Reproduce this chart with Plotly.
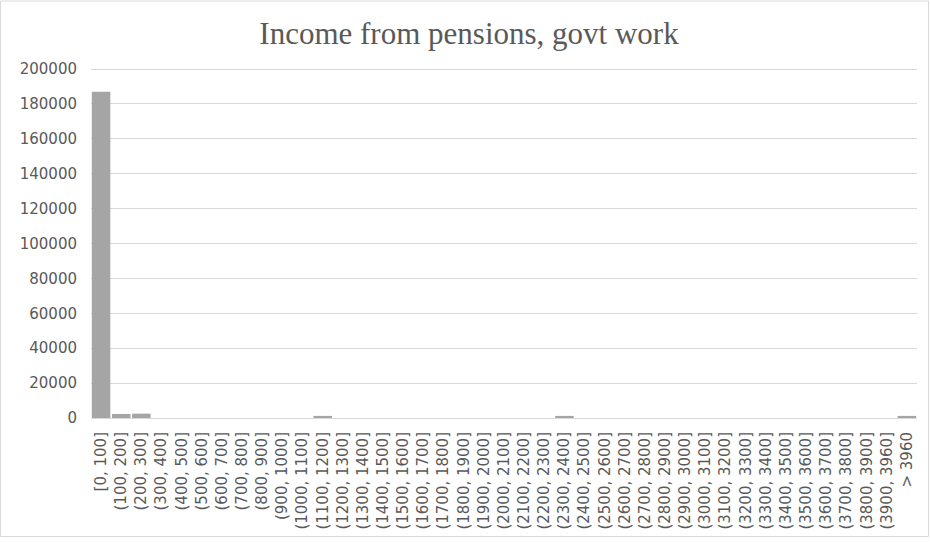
import plotly.graph_objects as go

# Income bins (upper bound of each bin, in dollars)
bin_labels = ["[0, 100]"] + [f"({a}, {a + 100}]" for a in range(100, 3900, 100)] + ["(3900, 3960]", "> 3960"]

# Counts per bin
counts = [187000, 2300, 2500] + [0] * 38
counts_map = {
    "(1100, 1200]": 1200,
    "(2300, 2400]": 1200,
    "> 3960": 1200,
}
counts = [counts_map.get(lbl, c) for lbl, c in zip(bin_labels, counts)]

tick_vals = list(range(0, 200001, 20000))
y_max = 201200  # a little headroom so the 200000 gridline is drawn

W, H = 930, 542
ML, MR, MT, MB = 91, 13, 67, 121
pw, ph = W - ML - MR, H - MT - MB

fig = go.Figure(
    go.Bar(
        x=bin_labels,
        y=counts,
        marker=dict(color="#a5a5a5", line=dict(width=0)),
    )
)

fig.update_layout(
    width=W,
    height=H,
    margin=dict(l=ML, r=MR, t=MT, b=MB),
    paper_bgcolor="white",
    plot_bgcolor="white",
    bargap=0.08,
    showlegend=False,
    title=dict(
        text="Income from pensions, govt work",
        x=(469 - ML) / pw,
        xref="paper",
        xanchor="center",
        y=1 - 33 / H,
        yanchor="middle",
        font=dict(family="Liberation Serif", size=31, color="#595959"),
    ),
    xaxis=dict(
        type="category",
        tickangle=-90,
        tickfont=dict(family="DejaVu Sans", size=15, color="#595959"),
        showgrid=False,
        showline=True,
        linecolor="#d9d9d9",
        linewidth=1,
        ticks="",
        ticklabelstandoff=7,
    ),
    yaxis=dict(
        range=[0, y_max],
        tickvals=tick_vals,
        tickformat="d",
        tickfont=dict(family="DejaVu Sans", size=15, color="#595959"),
        showgrid=True,
        gridcolor="#d9d9d9",
        gridwidth=1,
        zeroline=False,
        ticks="",
        ticklabelstandoff=13,
    ),
    shapes=[
        dict(
            type="rect",
            xref="paper",
            yref="paper",
            x0=(0.5 - ML) / pw,
            x1=(W - 1.5 - ML) / pw,
            y0=-(H - 1.5 - MT - ph) / ph,
            y1=1 + (MT - 0.5) / ph,
            line=dict(color="#d9d9d9", width=1),
            fillcolor="rgba(0,0,0,0)",
            layer="below",
        )
    ],
)

fig.write_html("out.html")
